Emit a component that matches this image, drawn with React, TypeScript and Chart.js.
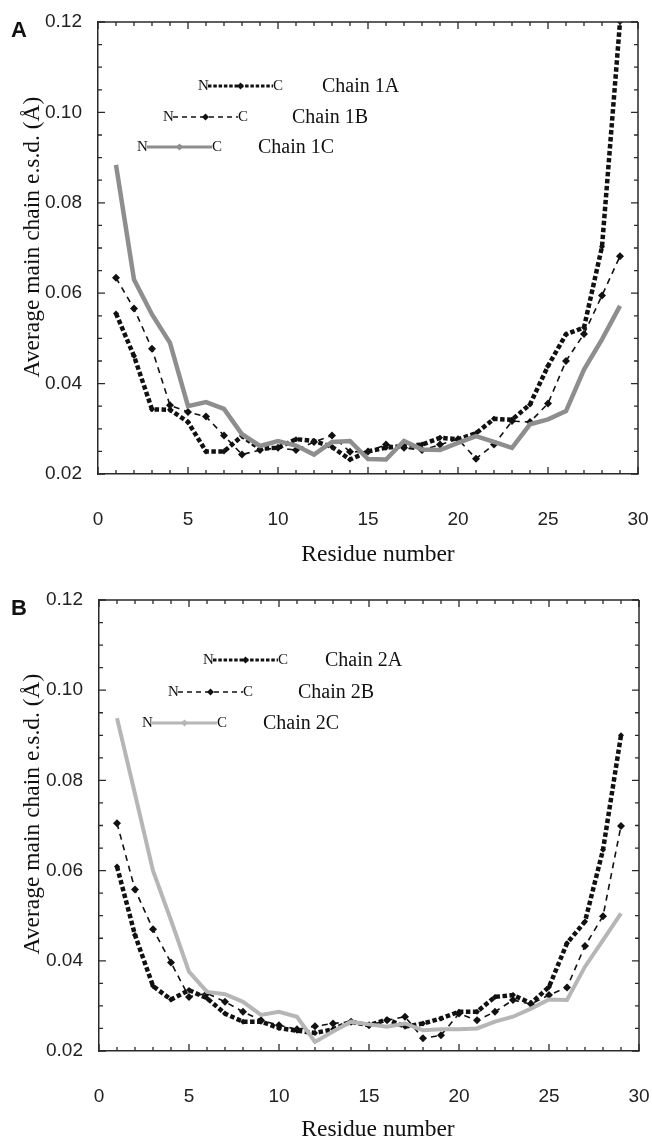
import React, { useEffect, useRef } from "react";
import { Chart, registerables } from "chart.js";

Chart.register(...registerables);

// ---------- data ----------
const residues = [1, 2, 3, 4, 5, 6, 7, 8, 9, 10, 11, 12, 13, 14, 15, 16, 17, 18, 19, 20, 21, 22, 23, 24, 25, 26, 27, 28, 29];

const chain1A = [0.0555, 0.0461, 0.0343, 0.0342, 0.0315, 0.025, 0.025, 0.0284, 0.0256, 0.0258, 0.0277, 0.0273, 0.026, 0.0232, 0.025, 0.0258, 0.0262, 0.0265, 0.028, 0.0277, 0.029, 0.0322, 0.032, 0.0354, 0.0439, 0.0509, 0.0524, 0.0703, 0.12];
const chain1B = [0.0634, 0.0566, 0.0477, 0.0352, 0.0337, 0.0327, 0.0285, 0.0243, 0.0253, 0.0258, 0.0253, 0.0271, 0.0285, 0.0249, 0.025, 0.0265, 0.0258, 0.0253, 0.0265, 0.0277, 0.0234, 0.0265, 0.0317, 0.0315, 0.0356, 0.045, 0.051, 0.0595, 0.0682];
const chain1C = [0.0884, 0.063, 0.0553, 0.049, 0.035, 0.0359, 0.0344, 0.0288, 0.0262, 0.0273, 0.0263, 0.0243, 0.0271, 0.0273, 0.0233, 0.0232, 0.0273, 0.0254, 0.0253, 0.0269, 0.0284, 0.0271, 0.0258, 0.031, 0.0321, 0.0339, 0.0431, 0.0498, 0.0572];

const chain2A = [0.0609, 0.0457, 0.0344, 0.0314, 0.0335, 0.0317, 0.0283, 0.0265, 0.0265, 0.0251, 0.0245, 0.024, 0.0248, 0.0265, 0.0257, 0.027, 0.0254, 0.0261, 0.0272, 0.0287, 0.0287, 0.032, 0.0324, 0.0306, 0.0342, 0.0439, 0.0487, 0.0646, 0.09];
const chain2B = [0.0705, 0.0558, 0.047, 0.0396, 0.032, 0.0328, 0.0309, 0.0287, 0.0268, 0.0257, 0.0248, 0.0255, 0.0261, 0.0265, 0.0257, 0.0268, 0.0276, 0.0228, 0.0235, 0.0283, 0.0268, 0.0287, 0.0313, 0.0304, 0.0324, 0.0341, 0.0433, 0.0499, 0.0699];
const chain2C = [0.0938, 0.077, 0.06, 0.049, 0.0376, 0.0331, 0.0326, 0.0309, 0.028, 0.0287, 0.0276, 0.022, 0.0243, 0.0265, 0.0259, 0.0254, 0.0261, 0.0246, 0.0248, 0.0248, 0.025, 0.0265, 0.0276, 0.0294, 0.0314, 0.0313, 0.0387, 0.0446, 0.0505];

const legendLabelsA = ["Chain 1A", "Chain 1B", "Chain 1C"];
const legendLabelsB = ["Chain 2A", "Chain 2B", "Chain 2C"];

const xMin = 0;
const xMax = 30;
const xStep = 5;
const yMin = 0.02;
const yMax = 0.12;
const yStep = 0.02;

const xTitle = "Residue number";
const yTitle = "Average main chain e.s.d. (Å)";

// ---------- styles ----------
const SERIF = '"Liberation Serif", "Times New Roman", serif';
const SANS = '"Liberation Sans", Arial, sans-serif';
const AXIS = "#2a2a2a";

type Style = {
  color: string;
  width: number;
  dash: number[];
  marker: number;
  legendWidth: number;
  legendDash: number[];
};

const sThick: Style = { color: "#111", width: 4.5, dash: [4.5, 2.5], marker: 3, legendWidth: 3, legendDash: [3.5, 1.8] };
const sDash: Style = { color: "#111", width: 1.6, dash: [6, 5], marker: 4, legendWidth: 1.5, legendDash: [5, 4] };
const sGray1: Style = { color: "#8e8e8e", width: 4.5, dash: [], marker: 0, legendWidth: 3, legendDash: [] };
const sGray2: Style = { color: "#b6b6b6", width: 4, dash: [], marker: 0, legendWidth: 3, legendDash: [] };

function makeDataset(label: string, values: number[], s: Style) {
  return {
    label,
    data: residues.map((r, i) => ({ x: r, y: values[i] })),
    borderColor: s.color,
    backgroundColor: s.color,
    borderWidth: s.width,
    borderDash: s.dash,
    borderCapStyle: "butt",
    pointStyle: "rectRot",
    pointRadius: s.marker,
    pointBackgroundColor: s.color,
    pointBorderColor: s.color,
    pointBorderWidth: 0,
    tension: 0,
    fill: false,
  };
}

type LegendRow = { sx: number; lx: number; y: number; style: Style; label: string };

type PanelProps = {
  top: number;
  height: number;
  plotLeft: number;
  plotTop: number;
  plotBottom: number;
  rightPad: number;
  letter: string;
  series: { label: string; values: number[]; style: Style }[];
  legend: LegendRow[];
  yTitleCy: number;
  xTitleCx: number;
  xTitleCy: number;
};

function drawDiamond(ctx: CanvasRenderingContext2D, x: number, y: number, r: number, color: string) {
  ctx.beginPath();
  ctx.moveTo(x, y - r);
  ctx.lineTo(x + r, y);
  ctx.lineTo(x, y + r);
  ctx.lineTo(x - r, y);
  ctx.closePath();
  ctx.fillStyle = color;
  ctx.fill();
}

function Panel(p: PanelProps) {
  const ref = useRef<HTMLCanvasElement | null>(null);

  useEffect(() => {
    const canvas = ref.current;
    if (!canvas) return;

    const decor = {
      id: "decor",
      afterDatasetsDraw(chart: any) {
        const ctx: CanvasRenderingContext2D = chart.ctx;
        const xs = chart.scales.x;
        const ys = chart.scales.y;
        const { left, right, top, bottom } = chart.chartArea;
        ctx.save();
        ctx.strokeStyle = AXIS;
        ctx.lineWidth = 1.5;
        ctx.setLineDash([]);
        ctx.beginPath();
        ctx.moveTo(left, top);
        ctx.lineTo(right, top);
        ctx.moveTo(right, top);
        ctx.lineTo(right, bottom);
        ctx.stroke();
        ctx.lineWidth = 1.3;
        ctx.beginPath();
        for (let i = xMin; i <= xMax; i++) {
          const px = xs.getPixelForValue(i);
          const len = i % 5 === 0 ? 7 : 4;
          ctx.moveTo(px, bottom);
          ctx.lineTo(px, bottom - len);
          ctx.moveTo(px, top);
          ctx.lineTo(px, top + len);
        }
        for (let k = 0; k <= 20; k++) {
          const v = yMin + k * 0.005;
          const py = ys.getPixelForValue(v);
          const len = k % 4 === 0 ? 7 : 4;
          ctx.moveTo(left, py);
          ctx.lineTo(left + len, py);
          ctx.moveTo(right, py);
          ctx.lineTo(right - len, py);
        }
        ctx.stroke();
        ctx.restore();
      },
      afterDraw(chart: any) {
        const ctx: CanvasRenderingContext2D = chart.ctx;
        ctx.save();
        ctx.fillStyle = "#111";
        // panel letter
        ctx.font = `bold 22px ${SANS}`;
        ctx.textAlign = "left";
        ctx.textBaseline = "middle";
        ctx.fillText(p.letter, 11, 31);
        // y title
        ctx.save();
        ctx.translate(33, p.yTitleCy);
        ctx.rotate(-Math.PI / 2);
        ctx.font = `23.5px ${SERIF}`;
        ctx.textAlign = "center";
        ctx.textBaseline = "middle";
        ctx.fillText(yTitle, 0, 0);
        ctx.restore();
        // x title
        ctx.font = `23.5px ${SERIF}`;
        ctx.textAlign = "center";
        ctx.textBaseline = "middle";
        ctx.fillText(xTitle, p.xTitleCx, p.xTitleCy);
        // legend
        for (const row of p.legend) {
          const s = row.style;
          ctx.fillStyle = "#111";
          ctx.font = `15px ${SERIF}`;
          ctx.textAlign = "left";
          ctx.textBaseline = "middle";
          ctx.fillText("N", row.sx, row.y);
          const x0 = row.sx + 10;
          const x1 = row.sx + 75;
          ctx.save();
          ctx.strokeStyle = s.color;
          ctx.lineWidth = s.legendWidth;
          ctx.setLineDash(s.legendDash);
          ctx.beginPath();
          ctx.moveTo(x0, row.y);
          ctx.lineTo(x1, row.y);
          ctx.stroke();
          ctx.restore();
          drawDiamond(ctx, (x0 + x1) / 2, row.y, 3.5, s.color);
          ctx.fillStyle = "#111";
          ctx.fillText("C", x1, row.y);
          ctx.font = `20px ${SERIF}`;
          ctx.fillText(row.label, row.lx, row.y + 1);
        }
        ctx.restore();
      },
    };

    const chart = new Chart(canvas, {
      type: "line",
      data: {
        datasets: p.series.map((s) => makeDataset(s.label, s.values, s.style)) as any,
      },
      options: {
        animation: false,
        responsive: false,
        devicePixelRatio: 1,
        layout: { padding: { top: p.plotTop, right: p.rightPad, left: 0, bottom: 0 } },
        plugins: {
          legend: { display: false },
          tooltip: { enabled: false },
        },
        scales: {
          x: {
            type: "linear",
            min: xMin,
            max: xMax,
            border: { display: true, color: AXIS, width: 1.5 },
            grid: { display: false, drawTicks: false },
            ticks: {
              stepSize: xStep,
              padding: 34,
              color: "#222",
              font: { family: SANS, size: 19 },
              maxRotation: 0,
            },
            afterFit: (s: any) => {
              s.height = p.height - p.plotBottom;
              s.paddingLeft = 0;
              s.paddingRight = 0;
            },
          },
          y: {
            type: "linear",
            min: yMin,
            max: yMax,
            border: { display: true, color: AXIS, width: 1.5 },
            grid: { display: false, drawTicks: false },
            ticks: {
              stepSize: yStep,
              padding: 16,
              color: "#222",
              font: { family: SANS, size: 19 },
              callback: (v: any) => Number(v).toFixed(2),
            },
            afterFit: (s: any) => {
              s.width = p.plotLeft;
              s.paddingTop = 0;
              s.paddingBottom = 0;
            },
          },
        },
      } as any,
      plugins: [decor],
    });

    return () => chart.destroy();
  }, []);

  return (
    <canvas
      ref={ref}
      width={652}
      height={p.height}
      style={{ position: "absolute", left: 0, top: p.top, width: 652, height: p.height, display: "block" }}
    />
  );
}

export default function App() {
  const panelA: PanelProps = {
    top: 0,
    height: 578,
    plotLeft: 98,
    plotTop: 22,
    plotBottom: 474,
    rightPad: 14,
    letter: "A",
    series: [
      { label: legendLabelsA[2], values: chain1C, style: sGray1 },
      { label: legendLabelsA[1], values: chain1B, style: sDash },
      { label: legendLabelsA[0], values: chain1A, style: sThick },
    ],
    legend: [
      { sx: 198, lx: 322, y: 86, style: sThick, label: legendLabelsA[0] },
      { sx: 163, lx: 292, y: 117, style: sDash, label: legendLabelsA[1] },
      { sx: 137, lx: 258, y: 147, style: sGray1, label: legendLabelsA[2] },
    ],
    yTitleCy: 237,
    xTitleCx: 378,
    xTitleCy: 555,
  };
  const panelB: PanelProps = {
    top: 578,
    height: 562,
    plotLeft: 99,
    plotTop: 22,
    plotBottom: 473,
    rightPad: 13,
    letter: "B",
    series: [
      { label: legendLabelsB[2], values: chain2C, style: sGray2 },
      { label: legendLabelsB[1], values: chain2B, style: sDash },
      { label: legendLabelsB[0], values: chain2A, style: sThick },
    ],
    legend: [
      { sx: 203, lx: 325, y: 82, style: sThick, label: legendLabelsB[0] },
      { sx: 168, lx: 298, y: 114, style: sDash, label: legendLabelsB[1] },
      { sx: 142, lx: 263, y: 145, style: sGray2, label: legendLabelsB[2] },
    ],
    yTitleCy: 236,
    xTitleCx: 378,
    xTitleCy: 552,
  };
  return (
    <div style={{ position: "absolute", left: 0, top: 0, width: 652, height: 1140, background: "#fff" }}>
      <Panel {...panelA} />
      <Panel {...panelB} />
    </div>
  );
}
